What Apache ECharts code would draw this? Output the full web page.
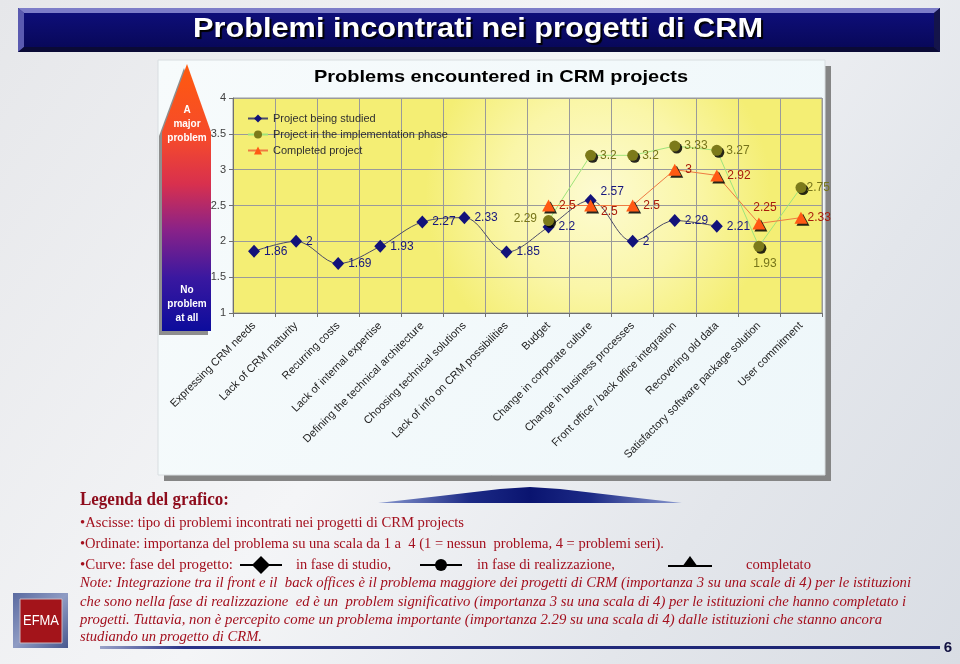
<!DOCTYPE html>
<html><head><meta charset="utf-8">
<script src="https://cdn.jsdelivr.net/npm/echarts@6/dist/echarts.min.js"></script>
<style>html,body{margin:0;padding:0;background:#eceef1}#c{width:960px;height:664px}</style>
</head><body><div id="c"></div>
<script>
// ---------- DATA ----------
const categories = [
  'Expressing CRM needs', 'Lack of CRM maturity', 'Recurring costs', 'Lack of internal expertise',
  'Defining the technical architecture', 'Choosing technical solutions', 'Lack of info on CRM possibilities',
  'Budget', 'Change in corporate culture', 'Change in business processes',
  'Front office / back office integration', 'Recovering old data',
  'Satisfactory software package solution', 'User commitment'
];
const seriesNames = ['Project being studied', 'Project in the implementation phase', 'Completed project'];
const studied = [1.86, 2, 1.69, 1.93, 2.27, 2.33, 1.85, 2.2, 2.57, 2, 2.29, 2.21, null, null];
const implementation = [null, null, null, null, null, null, null, 2.29, 3.2, 3.2, 3.33, 3.27, 1.93, 2.75];
const completed = [null, null, null, null, null, null, null, 2.5, 2.5, 2.5, 3, 2.92, 2.25, 2.33];
const yMin = 1, yMax = 4, yStep = 0.5;

// ---------- LABEL PLACEMENT (style, separate from data) ----------
const R = {position: 'right'};
const studiedLbl = [R, R, R, R, R, R, R, R, {position: 'right', offset: [0, -9]}, R, R, R, R, R];
const implLbl = [R, R, R, R, R, R, R, {position: 'left', offset: [-2, -2]}, R, R, R, R, {position: 'bottom', offset: [6, 2]}, {position: 'right', offset: [-4, 0]}];
const compLbl = [R, R, R, R, R, R, R, R, {position: 'right', offset: [0, 6]}, R, R, R, {position: 'top', offset: [6, 0]}, {position: 'right', offset: [-4, 0]}];

function build(vals, lbls) {
  return vals.map((v, i) => v == null ? null : {value: v, label: lbls[i]});
}

// ---------- TEXT HELPERS ----------
const mctx = document.createElement('canvas').getContext('2d');
function fitText(str, font, x, y, targetW, color, align, extra) {
  mctx.font = font;
  const w = mctx.measureText(str).width;
  const st = Object.assign({text: str, font: font, fill: color, textAlign: align || 'left',
            textVerticalAlign: 'middle', verticalAlign: 'middle'}, (extra && extra.style) || {});
  const el = {type: 'text', x: x, y: y, scaleX: targetW / w, z: 20, style: st};
  if (extra && extra.z != null) el.z = extra.z;
  return el;
}

const serif = '"Liberation Serif", "Times New Roman", serif';
const sans = '"Liberation Sans", Arial, sans-serif';
const red = '#a3101e';

const graphics = [
  // slide background
  {type: 'rect', z: -10, silent: true, shape: {x: 0, y: 0, width: 960, height: 664},
   style: {fill: new echarts.graphic.LinearGradient(0, 0, 1, 1, [
     {offset: 0, color: '#e6e7ea'}, {offset: 0.45, color: '#f4f5f7'}, {offset: 0.75, color: '#e3e6eb'}, {offset: 1, color: '#d9dde4'}])}},
  // title bar
  {type: 'rect', z: 1, shape: {x: 18, y: 8, width: 922, height: 44}, style: {fill: '#28287a'}},
  {type: 'polygon', z: 2, shape: {points: [[18, 8], [940, 8], [934, 13], [24, 13]]}, style: {fill: '#7d7dc8'}},
  {type: 'polygon', z: 2, shape: {points: [[18, 8], [24, 13], [24, 47], [18, 52]]}, style: {fill: '#5a5ab0'}},
  {type: 'polygon', z: 2, shape: {points: [[940, 8], [934, 13], [934, 47], [940, 52]]}, style: {fill: '#14144a'}},
  {type: 'polygon', z: 2, shape: {points: [[18, 52], [24, 47], [934, 47], [940, 52]]}, style: {fill: '#0a0a36'}},
  {type: 'rect', z: 3, shape: {x: 24, y: 13, width: 910, height: 34},
   style: {fill: new echarts.graphic.LinearGradient(0, 0, 0, 1, [{offset: 0, color: '#0e0e78'}, {offset: 1, color: '#08085a'}])}},
  fitText('Problemi incontrati nei progetti di CRM', 'bold 27px ' + sans, 478, 30, 570, '#ffffff', 'center',
    {style: {textShadowColor: '#000000', textShadowOffsetX: 2, textShadowOffsetY: 2, textShadowBlur: 1}}),
  // chart box with shadow
  {type: 'rect', z: 0, shape: {x: 164, y: 66, width: 667, height: 415}, style: {fill: '#858585'}},
  {type: 'rect', z: 1, shape: {x: 158, y: 60, width: 667, height: 415},
   style: {fill: new echarts.graphic.LinearGradient(0, 0, 1, 1, [{offset: 0, color: '#f7fbfc'}, {offset: 1, color: '#eef7fa'}]), stroke: '#d8dde0', lineWidth: 1}},
  fitText('Problems encountered in CRM projects', 'bold 17px ' + sans, 501, 77, 374, '#000000', 'center'),
  // left arrow
  {type: 'polygon', z: 2, shape: {points: [[159, 136], [184, 68], [208, 136], [208, 335], [159, 335]]}, style: {fill: '#8e8e8e'}},
  {type: 'polygon', z: 3, shape: {points: [[162, 132], [187, 64], [211, 132], [211, 331], [162, 331]]},
   style: {fill: new echarts.graphic.LinearGradient(0, 0, 0, 1, [
     {offset: 0, color: '#ff5a0e'}, {offset: 0.28, color: '#f54a2c'}, {offset: 0.45, color: '#d8304e'},
     {offset: 0.62, color: '#8a2288'}, {offset: 0.8, color: '#3a18a0'}, {offset: 1, color: '#0c0c9c'}])}},
];
[['A', 110], ['major', 124], ['problem', 138], ['No', 290], ['problem', 304], ['at all', 318]].forEach(function (t) {
  graphics.push({type: 'text', z: 5, x: 187, y: t[1], style: {text: t[0], font: 'bold 10px ' + sans, fill: '#ffffff',
    textAlign: 'center', textVerticalAlign: 'middle', verticalAlign: 'middle', textShadowColor: 'rgba(0,0,0,0.5)', textShadowOffsetX: 1, textShadowOffsetY: 1}});
});
// lens shape under chart
graphics.push({type: 'polygon', z: 2, shape: {points: [[378, 503], [440, 496], [500, 489], [530, 487], [560, 489], [620, 496], [682, 503]]},
  style: {fill: new echarts.graphic.LinearGradient(0, 0, 1, 0, [
    {offset: 0, color: '#8a9ad0'}, {offset: 0.3, color: '#1c2a86'}, {offset: 0.5, color: '#0a1470'}, {offset: 0.7, color: '#1c2a86'}, {offset: 1, color: '#8a9ad0'}])}});
// legend text block
graphics.push(fitText('Legenda del grafico:', 'bold 18px ' + serif, 80, 500, 149, '#8e0c1c'));
graphics.push(fitText('\u2022Ascisse: tipo di problemi incontrati nei progetti di CRM projects', '14px ' + serif, 80, 523, 384, red));
graphics.push(fitText('\u2022Ordinate: importanza del problema su una scala da 1 a  4 (1 = nessun  problema, 4 = problemi seri).', '14px ' + serif, 80, 544, 584, red));
graphics.push(fitText('\u2022Curve: fase del progetto:', '14px ' + serif, 80, 565, 153, red));
graphics.push(fitText('in fase di studio,', '14px ' + serif, 296, 565, 95, red));
graphics.push(fitText('in fase di realizzazione,', '14px ' + serif, 477, 565, 138, red));
graphics.push(fitText('completato', '14px ' + serif, 746, 565, 65, red));
// legend symbols
graphics.push({type: 'line', z: 5, shape: {x1: 240, y1: 565, x2: 282, y2: 565}, style: {stroke: '#000', lineWidth: 2}});
graphics.push({type: 'polygon', z: 6, shape: {points: [[261, 556], [270, 565], [261, 574], [252, 565]]}, style: {fill: '#000'}});
graphics.push({type: 'line', z: 5, shape: {x1: 420, y1: 565, x2: 462, y2: 565}, style: {stroke: '#000', lineWidth: 2}});
graphics.push({type: 'circle', z: 6, shape: {cx: 441, cy: 565, r: 6}, style: {fill: '#000'}});
graphics.push({type: 'line', z: 5, shape: {x1: 668, y1: 566, x2: 712, y2: 566}, style: {stroke: '#000', lineWidth: 2}});
graphics.push({type: 'polygon', z: 6, shape: {points: [[690, 556], [698, 567], [682, 567]]}, style: {fill: '#000'}});
// note
const noteFont = 'italic 14px ' + serif;
graphics.push(fitText('Note: Integrazione tra il front e il  back offices \u00e8 il problema maggiore dei progetti di CRM (importanza 3 su una scale di 4) per le istituzioni', noteFont, 80, 583, 831, red));
graphics.push(fitText('che sono nella fase di realizzazione  ed \u00e8 un  problem significativo (importanza 3 su una scala di 4) per le istituzioni che hanno completato i', noteFont, 80, 602, 826, red));
graphics.push(fitText('progetti. Tuttavia, non \u00e8 percepito come un problema importante (importanza 2.29 su una scala di 4) dalle istituzioni che stanno ancora', noteFont, 80, 620, 802, red));
graphics.push(fitText('studiando un progetto di CRM.', noteFont, 80, 637, 182, red));
// EFMA logo
graphics.push({type: 'rect', z: 3, shape: {x: 13, y: 593, width: 55, height: 55},
  style: {fill: new echarts.graphic.LinearGradient(0, 0, 1, 1, [{offset: 0, color: '#5a6aa0'}, {offset: 0.5, color: '#8f9cc4'}, {offset: 1, color: '#48588e'}])}});
graphics.push({type: 'rect', z: 4, shape: {x: 20, y: 599, width: 42, height: 44}, style: {fill: '#a3141a', stroke: '#c8b8c0', lineWidth: 1}});
graphics.push(fitText('EFMA', '14px ' + sans, 41, 621, 36, '#ffffff', 'center', {z: 6}));
// bottom rule and page number
graphics.push({type: 'rect', z: 3, shape: {x: 100, y: 646, width: 840, height: 3},
  style: {fill: new echarts.graphic.LinearGradient(0, 0, 1, 0, [{offset: 0, color: '#9aa3c8'}, {offset: 0.1, color: '#2a3488'}, {offset: 1, color: '#1a2270'}])}});
graphics.push({type: 'text', z: 5, x: 948, y: 648, style: {text: '6', font: 'bold 15px ' + sans, fill: '#101040', textAlign: 'center', textVerticalAlign: 'middle', verticalAlign: 'middle'}});

// ---------- CHART ----------
const chart = echarts.init(document.getElementById('c'), null, {renderer: 'canvas'});
const lblFont = {fontFamily: sans, fontSize: 12};
chart.setOption({
  animation: false,
  backgroundColor: 'transparent',
  graphic: graphics,
  legend: {
    orient: 'vertical', left: 242, top: 107, itemGap: 3, itemWidth: 20, itemHeight: 10,
    textStyle: {fontFamily: sans, fontSize: 11, color: '#303030', lineHeight: 13},
    data: seriesNames, z: 10
  },
  grid: {
    left: 233, right: 138, top: 98, bottom: 351, show: true, z: 4,
    backgroundColor: new echarts.graphic.RadialGradient(0.62, 0.45, 0.8, [
      {offset: 0, color: '#fdfbd2'}, {offset: 0.55, color: '#faf6a8'}, {offset: 1, color: '#f4ee74'}]),
    borderWidth: 1, borderColor: '#9a9a9a'
  },
  xAxis: {
    type: 'category', data: categories, boundaryGap: true, z: 6,
    axisLine: {lineStyle: {color: '#707070'}},
    axisTick: {show: true, length: 4, lineStyle: {color: '#707070'}},
    splitLine: {show: true, lineStyle: {color: '#9a9a9a', width: 1}},
    axisLabel: {interval: 0, rotate: 45, margin: 11, fontFamily: sans, fontSize: 11, color: '#222'}
  },
  yAxis: {
    type: 'value', min: yMin, max: yMax, interval: yStep, z: 6,
    axisLine: {show: true, lineStyle: {color: '#707070'}},
    axisTick: {show: true, length: 4, lineStyle: {color: '#707070'}},
    splitLine: {show: true, lineStyle: {color: '#9a9a9a', width: 1}},
    axisLabel: {margin: 7, fontFamily: sans, fontSize: 11, color: '#404040'}
  },
  series: [
    {
      name: seriesNames[0], type: 'line', data: build(studied, studiedLbl), smooth: 0.35, z: 8,
      symbol: 'diamond', symbolSize: [12, 13], connectNulls: false,
      lineStyle: {color: '#4a4a68', width: 1},
      itemStyle: {color: '#12127a'},
      label: Object.assign({show: true, color: '#16167e', distance: 4}, lblFont)
    },
    {
      name: seriesNames[1], type: 'line', data: build(implementation, implLbl), z: 8,
      symbol: 'circle', symbolSize: 11,
      lineStyle: {color: '#9ee47a', width: 1},
      itemStyle: {color: '#7c7a1a', shadowColor: 'rgba(0,0,0,0.85)', shadowOffsetX: 2, shadowOffsetY: 2},
      label: Object.assign({show: true, color: '#76741a', distance: 4}, lblFont)
    },
    {
      name: seriesNames[2], type: 'line', data: build(completed, compLbl), z: 8,
      symbol: 'triangle', symbolSize: [13, 12],
      lineStyle: {color: '#ee7a42', width: 1},
      itemStyle: {color: '#ff5a14', shadowColor: 'rgba(0,0,0,0.85)', shadowOffsetX: 2, shadowOffsetY: 2},
      label: Object.assign({show: true, color: '#a81c0c', distance: 4}, lblFont)
    }
  ]
});
</script>
</body></html>
